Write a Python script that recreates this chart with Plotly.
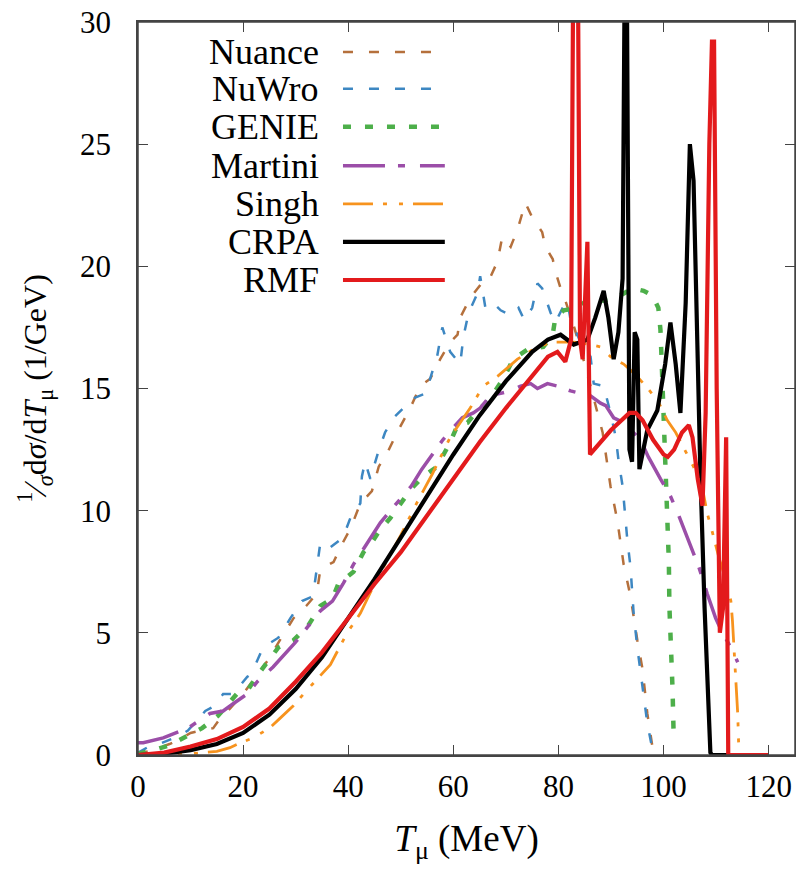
import plotly.graph_objects as go

# ---------------- data ----------------
nuance_T = [0, 2, 4, 6, 8, 10, 12, 14.3, 16, 17.5, 20, 22, 24.8, 27, 29.6, 32, 34, 34.7, 37.2, 39, 40.5,
            42.3, 44.5, 45.8, 47.5, 49.3, 51.8, 53.7, 55.6, 57.5, 59.4, 60.8, 61.3, 63.2, 65.7, 66.7, 68.4,
            69.3, 70.9, 72.2, 73.7, 75, 76.9, 77.5, 78.9, 79.4, 80.4, 81.3, 83, 85, 86.5, 87.4, 88.4, 89.9,
            91.2, 92.4, 93.7, 95, 96, 96.9, 97.9]
nuance_y = [0.05, 0.15, 0.3, 0.45, 0.65, 0.9, 1.0, 1.1, 1.6, 1.9, 2.5, 3.1, 3.9, 4.7, 5.6, 6.1, 6.6, 7.6, 7.9,
            8.7, 9.3, 10.3, 10.8, 11.8, 12.4, 13.2, 14.2, 15.1, 15.4, 16.2, 16.9, 17.2, 17.9, 18.7, 19.4, 19.4,
            20.2, 21.2, 20.8, 21.5, 22.6, 22.0, 21.4, 20.8, 20.3, 19.8, 19.1, 18.6, 17.5, 16.0, 14.8, 14.1,
            13.2, 11.0, 9.6, 7.8, 6.5, 4.7, 3.5, 1.7, 0.3]

nuwro_T = [0, 1.7, 4, 5.7, 8, 9.5, 11.2, 12.8, 14.5, 16.2, 18.1, 20.8, 21.5, 23.8, 26.7, 29, 31.2, 33.3, 34,
           34.7, 36.6, 39, 40.4, 42.3, 42.6, 43.2, 44.2, 45.7, 47, 48.6, 50.5, 52.4, 54.7, 56.9, 57.9, 59.4,
           61.3, 61.9, 62.9, 63.8, 64.6, 65.1, 66.1, 67.6, 69, 70.9, 72.4, 73.5, 75, 76, 76.9, 78.5, 79.4,
           80.8, 81.7, 82.3, 84, 86.1, 86.7, 88.6, 89.9, 90.9, 91.4, 92.2, 93.1, 93.7, 94.3, 95, 96, 96.9, 97.9]
nuwro_y = [0.1, 0.3, 0.45, 0.6, 0.8, 1.0, 1.4, 1.8, 2.0, 2.5, 2.5, 3.2, 3.3, 4.4, 4.8, 5.6, 6.3, 6.5, 7.6,
           8.7, 8.5, 8.9, 9.7, 10.3, 11.4, 12.0, 11.3, 12.4, 13.2, 13.8, 14.2, 14.6, 14.8, 16.3, 17.5, 16.5,
           16.0, 17.1, 18.1, 18.5, 18.9, 19.6, 18.3, 18.5, 18.2, 18.0, 18.3, 17.8, 18.3, 19.3, 19.1, 18.1,
           17.7, 18.3, 18.6, 17.8, 17.0, 16.3, 15.2, 15.1, 14.0, 13.0, 12.1, 11.0, 8.8, 7.7, 5.8, 4.4, 2.8,
           1.3, 0.2]

genie_T = [0, 3, 6, 8.6, 12.2, 15.2, 18.8, 21, 23.2, 26.7, 29.6, 32.4, 34.7, 37, 38.1, 41, 42.9, 44.5, 46,
           48, 50, 52, 54.3, 56.9, 59.4, 60.8, 62.7, 64.6, 66.7, 69.5, 71.4, 74.1, 77.1, 78.9, 79.4, 81,
           83.6, 86.5, 88.5, 90.9, 92.5, 94.1, 96.2, 97.9, 99, 99.4, 99.6, 100, 100.4, 100.7, 101, 101.1,
           101.5, 101.7, 101.9]
genie_y = [0.05, 0.2, 0.4, 0.7, 1.1, 1.6, 2.5, 2.7, 3.4, 4.4, 4.7, 5.3, 6.1, 6.4, 7.0, 7.5, 8.3, 8.7, 9.2,
           9.7, 10.3, 10.9, 11.4, 11.8, 12.8, 13.5, 13.6, 14.1, 14.5, 15.4, 16.2, 16.6, 16.7, 17.2, 17.9,
           18.2, 18.3, 18.8, 18.6, 18.7, 18.9, 19.1, 19.0, 18.8, 18.3, 17.4, 16.3, 14.0, 11.4, 9.6, 7.9,
           6.1, 4.4, 2.7, 0.9]

martini_T = [0, 1, 4.8, 8, 9.5, 13.7, 16.2, 18.1, 20.8, 22.7, 25.7, 29.9, 32.2, 34.7, 37, 39, 41, 44.8,
             46.1, 48, 50, 52, 54, 56, 58, 60, 61.7, 63.8, 65.1, 67, 70.9, 72.8, 74.7, 76, 77.9, 79.8,
             82.3, 84.2, 86.1, 88, 89, 90.5, 92.4, 95.6, 97.1, 99.4, 101.3, 102.7, 103.8, 105.1, 106.7,
             108.3, 109.9, 111.2, 112.8, 114.1]
martini_y = [0.5, 0.5, 0.7, 0.95, 1.1, 1.7, 1.8, 2.1, 2.5, 3.0, 3.6, 4.6, 5.2, 5.9, 6.3, 7.0, 7.8, 9.1,
             9.5, 10.0, 10.5, 11.0, 11.7, 12.3, 12.9, 13.4, 13.8, 14.0, 14.2, 14.7, 14.9, 15.1, 15.2, 15.0,
             15.2, 15.1, 14.9, 14.8, 14.7, 14.4, 14.3, 13.8, 13.6, 12.9, 12.2, 11.3, 10.6, 9.9, 9.3, 8.5,
             7.7, 6.6, 5.6, 5.0, 4.4, 3.8]

singh_T = [0, 3, 6, 8, 10, 13, 15, 17.5, 19.5, 21.9, 25, 27, 29.5, 31.5, 34, 36.6, 39.8, 42.3, 45, 48, 50,
           53, 56, 59.4, 63.2, 65.7, 68.4, 72.2, 75.2, 78.5, 80.5, 83, 86, 88, 89.9, 92.4, 94.5, 96.6, 98.9,
           100.7, 102.3, 103.8, 105.7, 107.4, 108.3, 109.3, 110.5, 111.8, 112.8, 113.1, 113.7, 114.1, 114.3]
singh_y = [0, 0, 0, 0.02, 0.05, 0.1, 0.15, 0.3, 0.5, 0.7, 1.1, 1.5, 2.0, 2.5, 3.1, 3.7, 5.0, 5.8, 7.0, 8.2,
           9.0, 10.3, 11.5, 13.0, 14.2, 15.1, 15.5, 16.2, 16.6, 16.9, 16.9, 16.9, 16.8, 16.7, 16.3, 16.0,
           15.6, 15.1, 14.5, 13.7, 13.2, 12.6, 11.8, 10.9, 9.9, 9.1, 8.1, 7.2, 6.3, 5.5, 3.4, 1.7, 0.3]

crpa_T = [0, 5, 10, 15, 20, 25, 30, 35, 40, 45, 50, 55, 60, 65, 70, 75, 78, 80.4, 82.9, 85.5, 87, 88.6,
          89.5, 90.5, 91.4, 92.2, 92.6, 93.0, 93.5, 94.0, 94.5, 95.0, 95.4, 96.9, 98.8, 100.3, 101.3, 102.3,
          103.2, 104.2, 105.0, 105.7, 106.3, 107.0, 107.8, 108.4, 108.9, 109.2, 112.2]
crpa_y = [0, 0.05, 0.2, 0.45, 0.9, 1.65, 2.7, 4.0, 5.6, 7.2, 8.9, 10.6, 12.3, 13.9, 15.3, 16.5, 17.0,
          17.2, 16.8, 17.0, 17.9, 19.0, 17.9, 16.2, 17.3, 19.5, 32, 32, 12.5, 12.0, 17.3, 17.0, 11.7,
          13.3, 14.1, 16.0, 17.7, 16.0, 14.0, 18.5, 25.0, 23.5, 17.0, 11.5, 6.0, 2.5, 0.1, 0, 0]

rmf_T = [0, 5, 10, 15, 20, 25, 30, 35, 40, 45, 50, 55, 60, 65, 70, 75, 78, 79.8, 81.3, 82.4, 82.8, 83.7,
         84.1, 84.6, 85.5, 86.0, 88, 90, 92, 93.5, 94.7, 96, 98, 100, 100.8, 102, 103.5, 104.8, 105.5,
         106.5, 107.4, 108.0, 108.7, 109.2, 109.6, 110.1, 110.7, 111.3, 111.9, 112.3, 120]
rmf_y = [0, 0.1, 0.35, 0.65, 1.15, 1.9, 3.0, 4.2, 5.6, 7.0, 8.3, 9.8, 11.3, 12.8, 14.2, 15.5, 16.3, 16.5,
         16.1, 17.0, 32, 32, 17.0, 16.2, 21.0, 12.3, 12.8, 13.3, 13.7, 14.0, 14.0, 13.7, 12.9, 12.3, 12.2,
         12.5, 13.2, 13.5, 13.0, 11.3, 10.2, 14.0, 25.0, 29.2, 29.2, 15.0, 5.0, 6.0, 13.0, 0, 0]

x_ticks = [0, 20, 40, 60, 80, 100, 120]
y_ticks = [0, 5, 10, 15, 20, 25, 30]

# ---------------- styles ----------------
series = [
    ("Nuance", nuance_T, nuance_y, "#b5703c", 2.5, "10px,16px"),
    ("NuWro", nuwro_T, nuwro_y, "#3d87c2", 2.5, "10px,16px"),
    ("GENIE", genie_T, genie_y, "#4daf4a", 4.5, "8px,14px"),
    ("Martini", martini_T, martini_y, "#9b4ea8", 3.5, "42px,13px,7px,15px"),
    ("Singh", singh_T, singh_y, "#f7931e", 2.8, "30px,10px,4px,12px,4px,10px"),
    ("CRPA", crpa_T, crpa_y, "#000000", 4.2, "solid"),
    ("RMF", rmf_T, rmf_y, "#e31a1c", 4.2, "solid"),
]

FONT = "Liberation Serif, DejaVu Serif, serif"

fig = go.Figure()
for name, xs, ys, col, w, dash in series:
    fig.add_trace(go.Scatter(x=xs, y=ys, mode="lines", name=name, showlegend=False,
                             line=dict(color=col, width=w, dash=dash)))

# custom legend: label right-aligned, sample line to its right
row_y = [0.959, 0.909, 0.857, 0.804, 0.752, 0.700, 0.648]
for (name, xs, ys, col, w, dash), yy in zip(series, row_y):
    fig.add_annotation(x=0.279, y=yy, xref="paper", yref="paper", text=name, showarrow=False,
                       xanchor="right", yanchor="middle", font=dict(family=FONT, size=36, color="black"))
    fig.add_shape(type="line", xref="paper", yref="paper", x0=0.312, x1=0.467, y0=yy, y1=yy,
                  line=dict(color=col, width=w, dash=dash))

# plot frame (box round the data area)
fig.add_shape(type="rect", xref="paper", yref="paper", x0=0, x1=1, y0=0, y1=1,
              line=dict(color="#444", width=1.5), fillcolor="rgba(0,0,0,0)", layer="above")

axis_common = dict(showline=True, linecolor="#444", linewidth=1.5, mirror="all", ticks="inside",
                   ticklen=10, tickcolor="#444", showgrid=False, zeroline=False,
                   tickfont=dict(family=FONT, size=31, color="black"))

fig.update_layout(
    width=796, height=869,
    margin=dict(l=138, r=1, t=22, b=114, autoexpand=False),
    paper_bgcolor="white", plot_bgcolor="white",
    xaxis=dict(range=[0, 125], tickvals=x_ticks, ticklabelstandoff=3, automargin=False,
               title=dict(text="<i>T</i><sub>μ</sub> (MeV)", font=dict(family=FONT, size=37, color="black"),
                          standoff=22),
               **axis_common),
    yaxis=dict(range=[0, 30], tickvals=y_ticks, ticklabelstandoff=19, automargin=False,
               title=dict(text="<sup>1</sup>⁄<sub><i>σ</i></sub>d<i>σ</i>/d<i>T</i><sub>μ</sub> (1/GeV)",
                          font=dict(family=FONT, size=32, color="black"), standoff=24),
               **axis_common),
)

# remove the default page margin so the figure fills the 796x869 window exactly
fig.write_html("out.html", config={"displayModeBar": False},
               post_script="document.body.style.margin='0';document.body.style.overflow='hidden';")
